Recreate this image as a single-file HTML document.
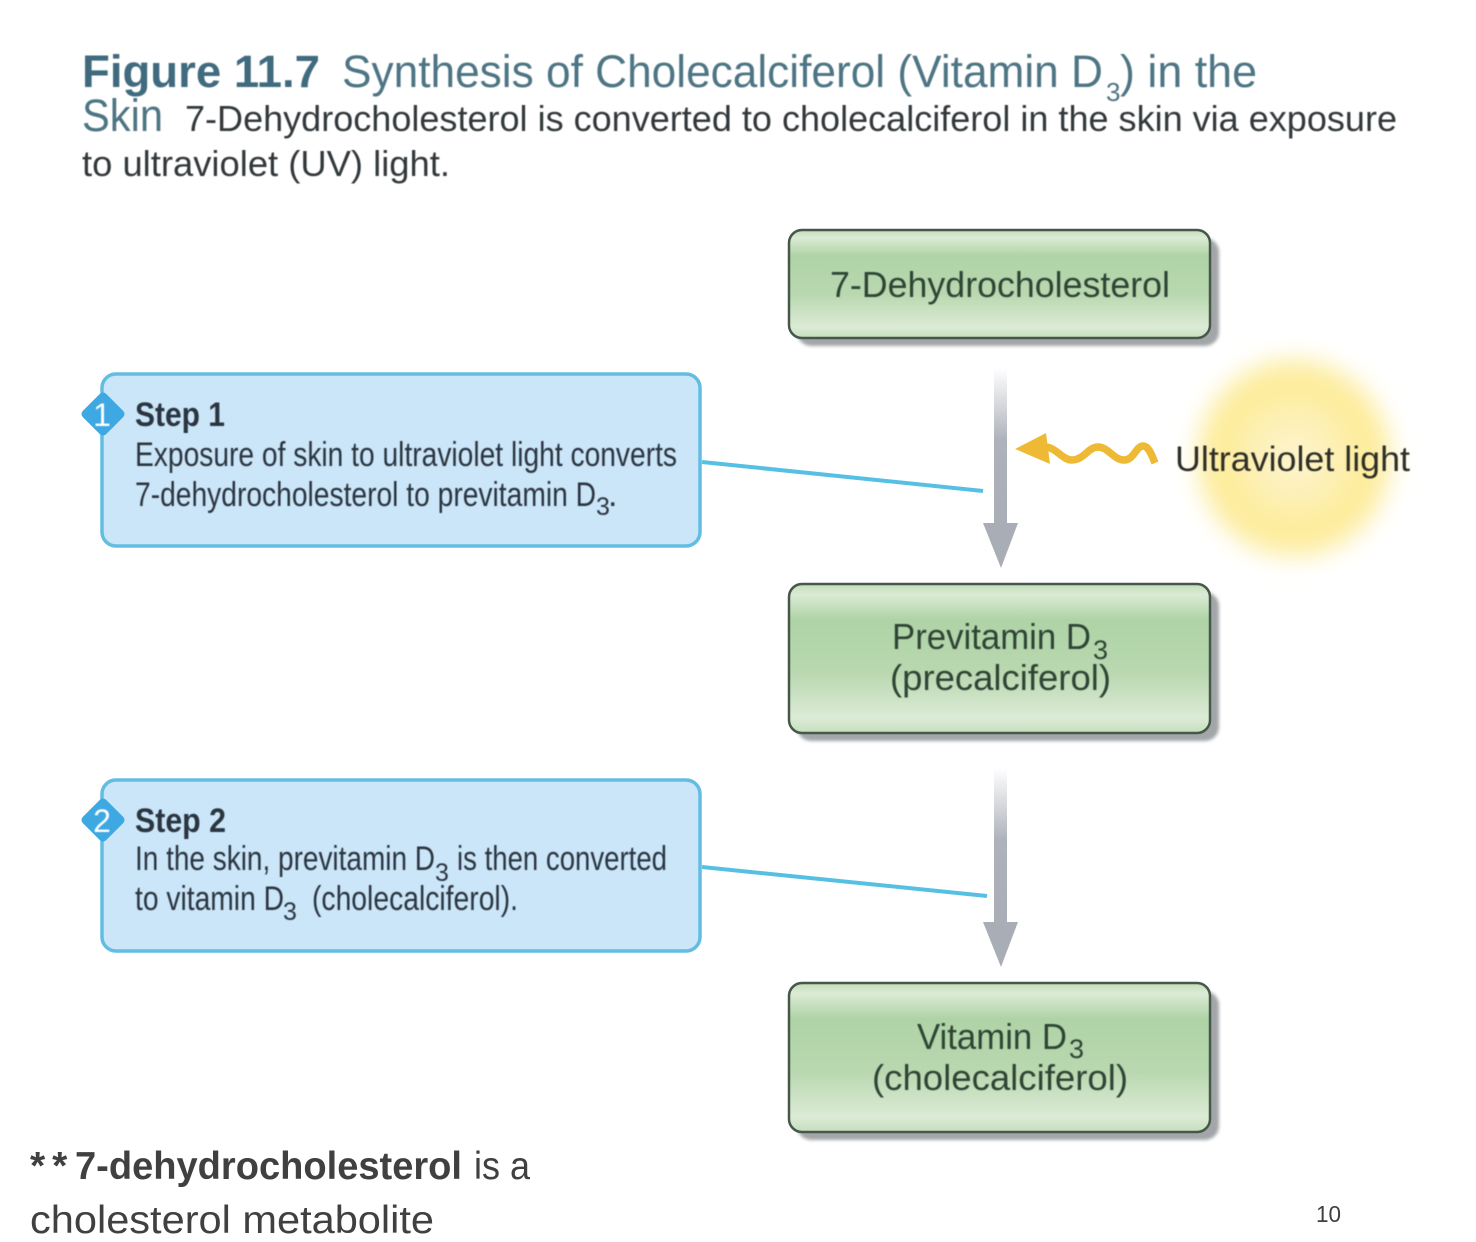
<!DOCTYPE html>
<html><head><meta charset="utf-8"><style>
html,body{margin:0;padding:0;background:#fff;width:1476px;height:1242px;overflow:hidden}
svg{display:block}
text{font-family:"Liberation Sans",sans-serif}
</style></head><body>
<svg width="1476" height="1242" viewBox="0 0 1476 1242" xmlns="http://www.w3.org/2000/svg">
<defs>
<linearGradient id="g" x1="0" y1="0" x2="0" y2="1">
<stop offset="0" stop-color="#c3dcb9"/><stop offset=".07" stop-color="#dcebd5"/><stop offset=".24" stop-color="#afd3a6"/><stop offset=".6" stop-color="#b9d8b0"/><stop offset=".9" stop-color="#dcebd6"/><stop offset="1" stop-color="#c5dfbc"/>
</linearGradient>
<linearGradient id="a" x1="0" y1="0" x2="0" y2="1">
<stop offset="0" stop-color="#fff"/><stop offset=".45" stop-color="#aeb2ba"/><stop offset="1" stop-color="#a9adb6"/>
</linearGradient>
<radialGradient id="sun">
<stop offset="0" stop-color="#fdf5d0"/><stop offset=".4" stop-color="#fdf0b4"/><stop offset=".72" stop-color="#fdeb94"/><stop offset=".88" stop-color="#fdf2ba"/><stop offset="1" stop-color="#fff" stop-opacity="0"/>
</radialGradient>
<filter id="b" x="-5%" y="-20%" width="110%" height="140%"><feGaussianBlur stdDeviation=".6"/></filter>
<filter id="s" x="-5%" y="-10%" width="110%" height="120%"><feGaussianBlur stdDeviation="1.5"/></filter>
<filter id="sb" x="-30%" y="-30%" width="160%" height="160%"><feGaussianBlur stdDeviation="11"/></filter>
</defs>

<g filter="url(#b)">
<text x="82" y="87" font-size="45" font-weight="bold" fill="#3f6a7e" textLength="238" lengthAdjust="spacingAndGlyphs">Figure 11.7</text>
<text x="342" y="87" font-size="45" fill="#4d7484" textLength="761" lengthAdjust="spacingAndGlyphs">Synthesis of Cholecalciferol (Vitamin D</text>
<text x="1106" y="101" font-size="26" fill="#4d7484">3</text>
<text x="1120" y="87" font-size="45" fill="#4d7484" textLength="137" lengthAdjust="spacingAndGlyphs">) in the</text>
<text x="82" y="131" font-size="45" fill="#4d7484" textLength="81" lengthAdjust="spacingAndGlyphs">Skin</text>
<text x="185" y="131" font-size="36" fill="#33383a" textLength="1212" lengthAdjust="spacingAndGlyphs">7-Dehydrocholesterol is converted to cholecalciferol in the skin via exposure</text>
<text x="82" y="176" font-size="36" fill="#33383a" textLength="368" lengthAdjust="spacingAndGlyphs">to ultraviolet (UV) light.</text>
</g>

<ellipse cx="1294" cy="458" rx="108" ry="110" fill="url(#sun)" filter="url(#sb)"/>

<!-- green boxes -->
<g fill="#a3a6a8" filter="url(#s)">
<rect x="797" y="238" width="422" height="108" rx="14"/>
<rect x="797" y="592" width="422" height="149" rx="14"/>
<rect x="797" y="991" width="422" height="149" rx="14"/>
</g>
<g fill="url(#g)" stroke="#46584a" stroke-width="2.5">
<rect x="789" y="230" width="421" height="108" rx="13"/>
<rect x="789" y="584" width="421" height="149" rx="13"/>
<rect x="789" y="983" width="421" height="149" rx="13"/>
</g>

<g filter="url(#b)" fill="#2f4536" font-size="36">
<text x="830" y="297" textLength="340" lengthAdjust="spacingAndGlyphs">7-Dehydrocholesterol</text>
<text x="892" y="649" textLength="199" lengthAdjust="spacingAndGlyphs">Previtamin D</text>
<text x="1093" y="659" font-size="27">3</text>
<text x="890" y="690" textLength="221" lengthAdjust="spacingAndGlyphs">(precalciferol)</text>
<text x="917" y="1049" textLength="150" lengthAdjust="spacingAndGlyphs">Vitamin D</text>
<text x="1069" y="1058" font-size="27">3</text>
<text x="872" y="1090" textLength="256" lengthAdjust="spacingAndGlyphs">(cholecalciferol)</text>
</g>

<!-- step boxes -->
<g fill="#cce6f9" stroke="#62bde0" stroke-width="3.5">
<rect x="102" y="374" width="598" height="172" rx="14"/>
<rect x="102" y="780" width="598" height="171" rx="14"/>
</g>
<g fill="#3ea8e2" stroke="#3ea8e2" stroke-width="9" stroke-linejoin="round">
<polygon points="103,397 120,414 103,431 86,414"/>
<polygon points="103,803 120,820 103,837 86,820"/>
</g>
<g fill="#fff" font-size="32" text-anchor="middle" filter="url(#b)">
<text x="102" y="426">1</text>
<text x="102" y="832">2</text>
</g>

<g filter="url(#b)" fill="#2b3640" font-size="34">
<text x="135" y="426" font-weight="bold" textLength="90" lengthAdjust="spacingAndGlyphs">Step 1</text>
<text x="135" y="466" textLength="542" lengthAdjust="spacingAndGlyphs">Exposure of skin to ultraviolet light converts</text>
<text x="135" y="506" textLength="461" lengthAdjust="spacingAndGlyphs">7-dehydrocholesterol to previtamin D</text>
<text x="596" y="515" font-size="25">3</text>
<text x="608" y="506">.</text>
<text x="135" y="832" font-weight="bold" textLength="91" lengthAdjust="spacingAndGlyphs">Step 2</text>
<text x="135" y="870" textLength="300" lengthAdjust="spacingAndGlyphs">In the skin, previtamin D</text>
<text x="435" y="881" font-size="25">3</text>
<text x="457" y="870" textLength="210" lengthAdjust="spacingAndGlyphs">is then converted</text>
<text x="135" y="910" textLength="149" lengthAdjust="spacingAndGlyphs">to vitamin D</text>
<text x="283" y="920" font-size="25">3</text>
<text x="312" y="910" textLength="206" lengthAdjust="spacingAndGlyphs">(cholecalciferol).</text>
</g>

<!-- connectors -->
<g stroke="#56c0e4" stroke-width="4">
<line x1="702" y1="462" x2="983" y2="491"/>
<line x1="702" y1="867" x2="987" y2="896"/>
</g>

<!-- arrows -->
<rect x="994" y="368" width="13" height="160" fill="url(#a)"/>
<polygon points="983,523 1018,523 1001,568" fill="#a9adb6"/>
<rect x="994" y="768" width="13" height="160" fill="url(#a)"/>
<polygon points="983,922 1018,922 1001,967" fill="#a9adb6"/>

<!-- UV wave -->
<polygon points="1015,449 1046,433 1050,464" fill="#eeba35"/>
<path d="M1045,447 C1056,447 1062,460 1072,460 C1084,460 1088,447 1098,447 C1108,447 1114,460 1124,460 C1134,460 1136,446 1143,446 C1149,446 1152,456 1155,463" fill="none" stroke="#eeba35" stroke-width="7.5"/>

<text x="1175" y="471" font-size="35" fill="#2d2d28" textLength="235" lengthAdjust="spacingAndGlyphs" filter="url(#b)">Ultraviolet light</text>

<!-- footer -->
<text x="30" y="1179" font-size="39" font-weight="bold" fill="#404040" letter-spacing="7">**</text>
<text x="75" y="1179" font-size="39" font-weight="bold" fill="#404040" textLength="387" lengthAdjust="spacingAndGlyphs">7-dehydrocholesterol</text>
<text x="474" y="1179" font-size="39" fill="#404040" textLength="56" lengthAdjust="spacingAndGlyphs">is a</text>
<text x="30" y="1233" font-size="39" fill="#404040" textLength="404" lengthAdjust="spacingAndGlyphs">cholesterol metabolite</text>
<text x="1316" y="1222" font-size="23" fill="#404040" textLength="25" lengthAdjust="spacingAndGlyphs">10</text>
</svg>
</body></html>
